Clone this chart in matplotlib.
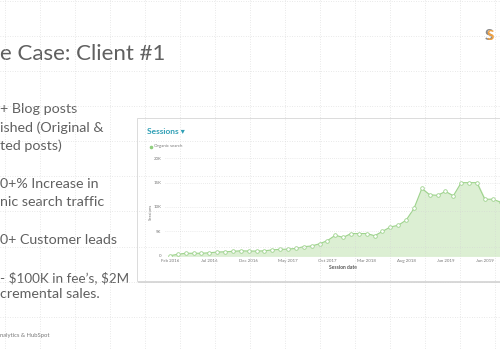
import matplotlib
matplotlib.use("Agg")
import matplotlib.pyplot as plt
from matplotlib.patches import Rectangle
import numpy as np

# ---- data ----
sessions = [0, 300, 500, 500, 500, 600, 750, 800, 900, 1000,
            950, 950, 1000, 1200, 1300, 1350, 1500, 1850, 2000, 2450,
            3100, 4200, 3750, 4550, 4550, 4550, 4100, 5000, 5900, 6250,
            7300, 9700, 13800, 12500, 12400, 13200, 12300, 15000, 15000, 15000,
            11600, 11600, 11000]
month_index = list(range(len(sessions)))  # 0 = Feb 2016
xtick_pos = [0, 5, 10, 15, 20, 25, 30, 35, 40]
xtick_labels = ['Feb 2016', 'Jul 2016', 'Dec 2016', 'May 2017', 'Oct 2017',
                'Mar 2018', 'Aug 2018', 'Jan 2019', 'Jun 2019']
ytick_pos = [0, 5000, 10000, 15000, 20000]
ytick_labels = ['0', '5K', '10K', '15K', '20K']

title = "e Case: Client #1"
bullet_lines = ["+ Blog posts", "ished (Original &", "ted posts)",
                "0+% Increase in", "nic search traffic",
                "0+ Customer leads",
                "- \\$100K in fee’s, \\$2M", "cremental sales."]
footer = "nalytics & HubSpot"

W, H = 500, 350
fig = plt.figure(figsize=(5, 3.5), dpi=100)
fig.patch.set_facecolor('white')

def fx(x):
    return x / W

def fy(y):
    return 1 - y / H

# background canvas in pixel coords
bg = fig.add_axes([0, 0, 1, 1], zorder=0)
bg.set_xlim(0, W)
bg.set_ylim(H, 0)
bg.axis('off')

txt_color = '#606060'
fam = ['Lato', 'DejaVu Sans']

bg.text(0, 60, title, fontsize=16, color=txt_color, family=fam,
        va='baseline', ha='left')

bullet_specs = [(0, 113, 10.3), (0, 132, 10.3), (0, 150, 10.3),
                (0, 188, 10.3), (0, 206, 10.3), (0, 244, 10.3),
                (0, 282, 9.7), (0, 298, 10.3)]
for (x, y, fs), s in zip(bullet_specs, bullet_lines):
    bg.text(x, y, s, fontsize=fs, color=txt_color, family=fam,
            va='baseline', ha='left')

bg.text(0, 337, footer, fontsize=4.2, color='#777777', family=fam,
        va='baseline', ha='left')

# logo approximation
bg.text(489, 36, 'S', fontsize=11, color='#8a8a8a', family=fam,
        fontweight='bold', ha='center', va='center')
bg.text(490, 36, 'S', fontsize=9.5, color='#f0a040', family=fam,
        fontweight='bold', ha='center', va='center')

# chart panel
bg.add_patch(Rectangle((138, 120), 380, 163, facecolor='#d8d8d8',
                       edgecolor='none', zorder=1))
bg.add_patch(Rectangle((137, 118), 380, 163, facecolor='white',
                       edgecolor='#d6d6d6', lw=0.6, zorder=2))
bg.text(147, 131, 'Sessions ▾', fontsize=6, color='#2f9fb5', family=fam,
        fontweight='bold', va='center', ha='left', zorder=3)
bg.plot([151], [146.5], 'o', ms=1.6, color='#8fcf7e', zorder=3)
bg.text(154.5, 146.5, 'Organic search', fontsize=3.2, color='#777777',
        family=fam, va='center', ha='left', zorder=3)
bg.text(151, 212, 'Sessions', fontsize=3.2, color='#777777', family=fam,
        rotation=90, va='center', ha='center', zorder=3)
bg.text(343, 267.5, 'Session date', fontsize=3.6, color='#555555', family=fam,
        fontweight='bold', va='center', ha='center', zorder=3)

# chart axes
y0, y20 = 255.7, 158.3
left_px, right_px = 165, 500
ax = fig.add_axes([fx(left_px), fy(y0), fx(right_px - left_px), (y0 - y20) / H],
                  zorder=2)
ax.patch.set_alpha(0)
px_per_month = 7.87
ax.set_xlim((left_px - 170) / px_per_month, (right_px - 170) / px_per_month)
ax.set_ylim(0, 20000)

line_c = '#9ed38d'
ax.fill_between(month_index, sessions, 0, color='#dcefd3', zorder=1)
ax.plot(month_index, sessions, color=line_c, lw=0.8, zorder=2,
        marker='o', ms=2.6, mfc='white', mec=line_c, mew=0.6)
ax.plot([-1, 45], [0, 0], color='#cfe8c5', lw=0.8, zorder=1.5)

for v in ytick_pos[1:]:
    ax.axhline(v, color='#d9d9d9', lw=0.5, ls=(0, (1, 2)), zorder=0)

ax.set_xticks(xtick_pos)
ax.set_xticklabels(xtick_labels, fontsize=3.2, color='#777777', family=fam)
ax.set_yticks(ytick_pos)
ax.set_yticklabels(ytick_labels, fontsize=3.2, color='#777777', family=fam)
ax.tick_params(length=0, pad=2.5)
for sp in ax.spines.values():
    sp.set_visible(False)

# dotted guide grid overlay
ov = fig.add_axes([0, 0, 1, 1], zorder=5)
ov.set_xlim(0, W)
ov.set_ylim(H, 0)
ov.patch.set_alpha(0)
ov.axis('off')
grid_c = '#d4d4d4'
for gx in np.arange(5, W, 35):
    ov.plot([gx, gx], [0, H], color=grid_c, lw=0.5, ls=(0, (1, 2.5)))
for gy in np.arange(0.8, H, 35.1):
    ov.plot([0, W], [gy, gy], color=grid_c, lw=0.5, ls=(0, (1, 2.5)))

fig.savefig('out.png', dpi=100, facecolor='white')
